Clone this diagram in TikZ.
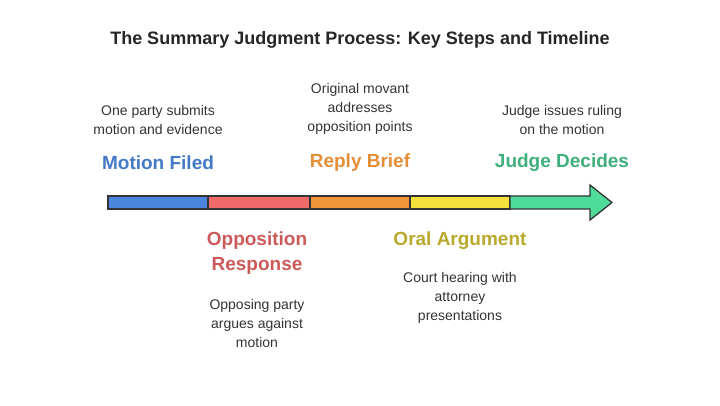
\documentclass[tikz,border=0pt]{standalone}
\usepackage{fontspec}
\setmainfont{Liberation Sans}
\begin{document}
\begin{tikzpicture}[x=1pt,y=-1pt,
  seg/.style={draw=black!80,line width=1.3pt},
  head/.style={font=\fontsize{19}{20}\selectfont\bfseries},
  body/.style={font=\fontsize{14}{19}\selectfont,align=center,text=black!80}]
\useasboundingbox (0,0) rectangle (720,406);
\definecolor{cb}{HTML}{4A86DB}\definecolor{cr}{HTML}{F06A6A}\definecolor{co}{HTML}{F0953A}
\definecolor{cy}{HTML}{F5E13A}\definecolor{cg}{HTML}{4FDB9A}
\node[font=\fontsize{18}{20}\selectfont\bfseries,text=black!85] (title) at (360,40) {The Summary Judgment Process: Key Steps and Timeline};
\fill[cb,seg] (108,196) rectangle (208,209);
\fill[cr,seg] (208,196) rectangle (310,209);
\fill[co,seg] (310,196) rectangle (410,209);
\fill[cy,seg] (410,196) rectangle (510,209);
\fill[cg,seg] (510,196) -- (590,196) -- (590,185) -- (612,202.5) -- (590,220) -- (590,209) -- (510,209) -- cycle;
\node[head,text=cb!90!black] (h1) at (158,163) {Motion Filed};
\node[body] (b1) at (158,120) {One party submits\\motion and evidence};
\node[head,text=co!95!black] (h3) at (360,163) {Reply Brief};
\node[body] (b3) at (360,109) {Original movant\\addresses\\opposition points};
\node[head,text=cg!80!black] (h5) at (562,163) {Judge Decides};
\node[body] (b5) at (562,120) {Judge issues ruling\\on the motion};
\node[head,text=cr!85!black,align=center,font=\fontsize{19}{25}\selectfont\bfseries] (h2) at (257,253) {Opposition\\Response};
\node[body] (b2) at (257,323) {Opposing party\\argues against\\motion};
\node[head,text=cy!75!black] (h4) at (460,241) {Oral Argument};
\node[body] (b4) at (460,298) {Court hearing with\\attorney\\presentations};
\end{tikzpicture}
\end{document}
